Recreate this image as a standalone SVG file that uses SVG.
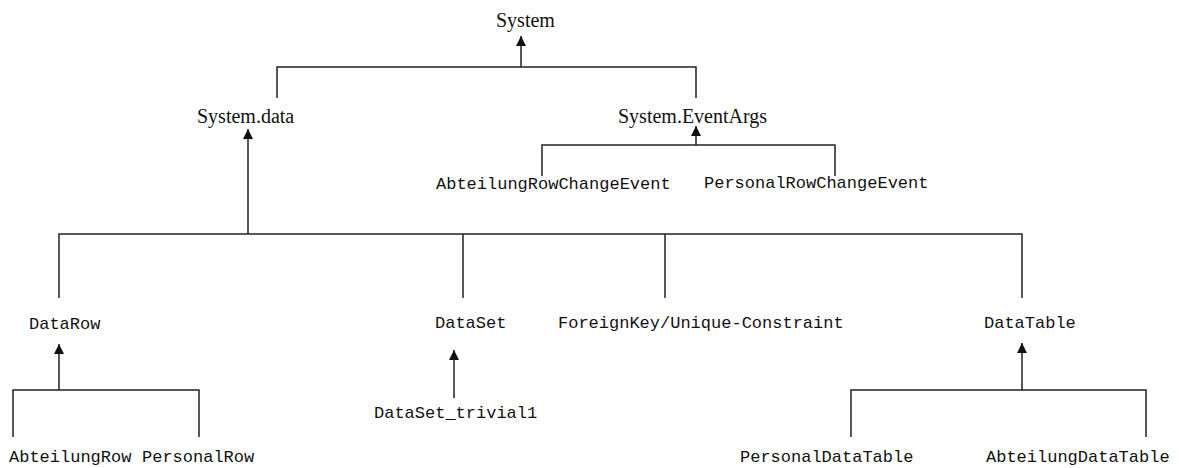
<svg xmlns="http://www.w3.org/2000/svg" width="1179" height="468" viewBox="0 0 1179 468">
<defs>
<marker id="arr" markerUnits="userSpaceOnUse" markerWidth="10" markerHeight="10" viewBox="0 0 10 10" refX="10" refY="5" orient="auto">
<path d="M0,0 L10,5 L0,10 Z" fill="#111"/>
</marker>
<style>
.serif{font-family:"Liberation Serif","Times New Roman",serif;font-size:20px;fill:#111}
.mono{font-family:"Liberation Mono","Courier New",monospace;font-size:17px;fill:#111}
.ln{stroke:#222;stroke-width:1.5;fill:none}
.ar{stroke:#222;stroke-width:1.5;fill:none;marker-end:url(#arr)}
</style>
</defs>
<rect width="1179" height="468" fill="#fff"/>
<g id="connectors">
<path class="ar" d="M521,67 V36"/>
<path class="ln" d="M277,98 V67 H696 V98"/>
<path class="ar" d="M248,234 V129"/>
<path class="ar" d="M696,145 V126"/>
<path class="ln" d="M542,176 V145 H835 V176"/>
<path class="ln" d="M59,298 V234 H1022 V298 M463,234 V298 M665,234 V298"/>
<path class="ar" d="M59,390 V344"/>
<path class="ln" d="M13,437 V390 H199 V437"/>
<path class="ar" d="M454,398 V350"/>
<path class="ar" d="M1022,390 V343"/>
<path class="ln" d="M851,437 V390 H1146 V437"/>
</g>
<g id="n-system"><text class="serif" x="496" y="27">System</text></g>
<g id="n-systemdata"><text class="serif" x="197" y="123">System.data</text></g>
<g id="n-eventargs"><text class="serif" x="618" y="123">System.EventArgs</text></g>
<g id="n-abtchange"><text class="mono" x="436" y="189">AbteilungRowChangeEvent</text></g>
<g id="n-perschange"><text class="mono" x="704" y="188">PersonalRowChangeEvent</text></g>
<g id="n-datarow"><text class="mono" x="29" y="329">DataRow</text></g>
<g id="n-dataset"><text class="mono" x="435" y="328">DataSet</text></g>
<g id="n-constraint"><text class="mono" x="558" y="328">ForeignKey/Unique-Constraint</text></g>
<g id="n-datatable"><text class="mono" x="984" y="328">DataTable</text></g>
<g id="n-abtrow"><text class="mono" x="9" y="462">AbteilungRow</text></g>
<g id="n-persrow"><text class="mono" x="142" y="462">PersonalRow</text></g>
<g id="n-trivial"><text class="mono" x="374" y="418">DataSet_trivial1</text></g>
<g id="n-persdt"><text class="mono" x="740" y="462">PersonalDataTable</text></g>
<g id="n-abtdt"><text class="mono" x="986" y="462">AbteilungDataTable</text></g>
</svg>
